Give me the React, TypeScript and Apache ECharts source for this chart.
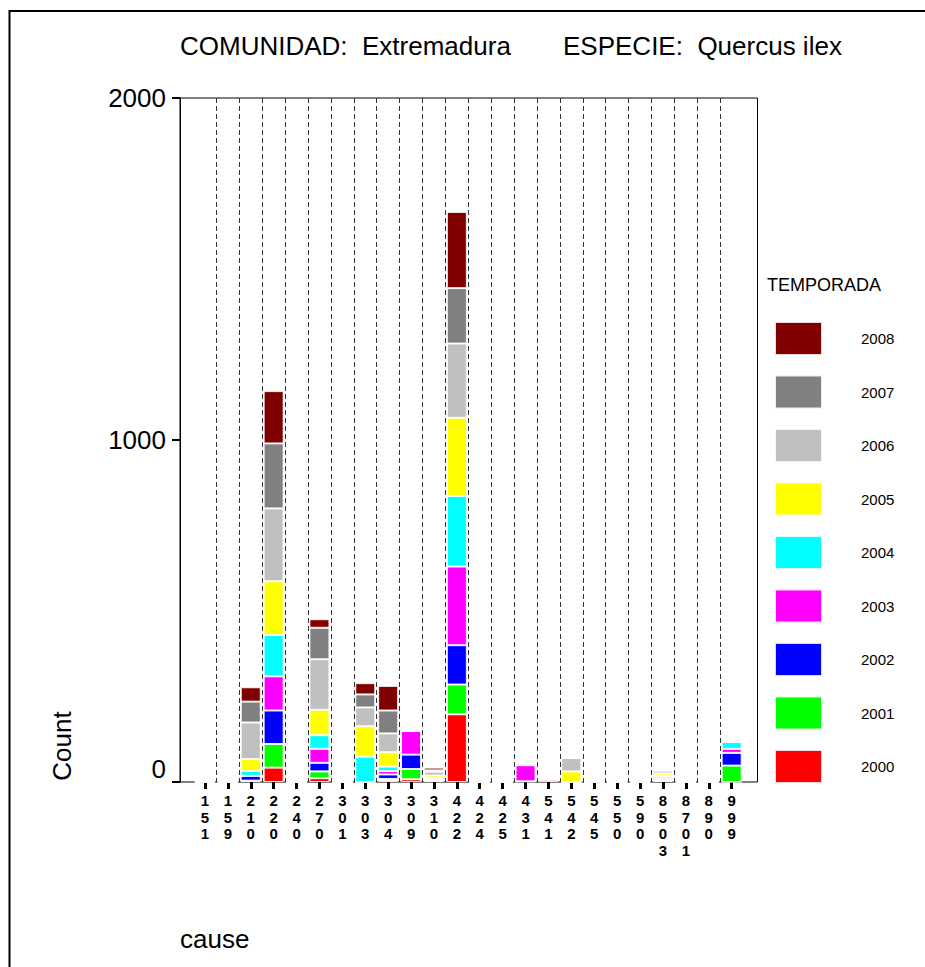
import React, { useEffect, useRef } from "react";
import * as echarts from "echarts";

const categories = ["151", "159", "210", "220", "240", "270", "301", "303", "304", "309", "310", "422", "424", "425", "431", "541", "542", "545", "550", "590", "8503", "8701", "890", "999"];
const seasons = ["2000", "2001", "2002", "2003", "2004", "2005", "2006", "2007", "2008"];
const seasonColors = ["#FF0000", "#00FF00", "#0000FF", "#FF00FF", "#00FFFF", "#FFFF00", "#C0C0C0", "#808080", "#800000"];

const v2000 = [0, 0, 4, 42, 0, 11, 0, 0, 5, 8, 3, 198, 0, 0, 2, 7, 0, 0, 0, 0, 3, 0, 0, 0];
const v2001 = [0, 0, 0, 69, 0, 20, 0, 0, 4, 30, 3, 87, 0, 0, 0, 0, 0, 0, 0, 0, 3, 0, 0, 48];
const v2002 = [0, 0, 14, 98, 0, 25, 0, 0, 13, 42, 2, 115, 0, 0, 0, 0, 0, 0, 0, 0, 4, 0, 0, 37];
const v2003 = [0, 0, 0, 100, 0, 41, 0, 0, 10, 69, 2, 230, 0, 0, 47, 0, 0, 0, 0, 0, 5, 0, 0, 12];
const v2004 = [0, 0, 14, 121, 0, 40, 0, 74, 13, 0, 2, 206, 0, 0, 0, 0, 0, 0, 0, 0, 3, 4, 0, 20];
const v2005 = [0, 0, 35, 157, 0, 74, 0, 89, 42, 0, 7, 229, 0, 0, 0, 0, 31, 0, 0, 0, 7, 0, 0, 0];
const v2006 = [0, 0, 107, 213, 0, 148, 0, 55, 55, 0, 11, 217, 0, 0, 0, 0, 39, 0, 0, 0, 8, 0, 0, 0];
const v2007 = [0, 0, 61, 190, 0, 92, 0, 38, 67, 0, 4, 162, 0, 0, 0, 0, 0, 0, 0, 0, 1, 0, 0, 0];
const v2008 = [0, 0, 42, 153, 0, 25, 0, 33, 72, 0, 8, 223, 0, 0, 0, 0, 0, 0, 0, 0, 1, 0, 0, 0];
const seasonValues = [v2000, v2001, v2002, v2003, v2004, v2005, v2006, v2007, v2008];

const yTicks = { min: 0, max: 2000, interval: 1000 };

const FONT = "'Liberation Sans', Arial, sans-serif";

export default function App() {
  const ref = useRef<HTMLDivElement>(null);
  useEffect(() => {
    if (!ref.current) return;
    const chart = echarts.init(ref.current, undefined, { renderer: "svg" });
    const series = seasons.map((s, i) => ({
      name: s,
      type: "bar",
      stack: "total",
      xAxisIndex: 1,
      yAxisIndex: 1,
      barWidth: 20,
      data: seasonValues[i],
      itemStyle: { color: seasonColors[i], borderColor: "rgba(255,255,255,0.85)", borderWidth: 1 },
    }));
    chart.setOption({
      animation: false,
      backgroundColor: "#ffffff",
      grid: [
        { left: 180, right: 167.5, top: 98, bottom: 185, show: true, borderColor: "#000", borderWidth: 1, backgroundColor: "transparent" },
        { left: 193.5, right: 181.9, top: 98, bottom: 185 },
        { left: 216.4, right: 204.8, top: 98, bottom: 185 },
      ],
      xAxis: [
        { gridIndex: 0, type: "value", min: 0, max: 1, show: false },
        {
          gridIndex: 1,
          type: "category",
          data: categories,
          axisLine: { show: false },
          axisTick: { show: true, alignWithLabel: true, length: 7, lineStyle: { color: "#000", width: 3 } },
          axisLabel: {
            interval: 0,
            margin: 10,
            color: "#000",
            fontFamily: FONT,
            fontWeight: "bold",
            fontSize: 15,
            lineHeight: 16.7,
            formatter: (v: string) => v.split("").join("\n"),
          },
          splitLine: { show: false },
        },
        {
          gridIndex: 2,
          type: "value",
          min: 1,
          max: 23,
          interval: 1,
          axisLine: { show: false },
          axisTick: { show: false },
          axisLabel: { show: false },
          splitLine: { show: true, lineStyle: { color: "#333", width: 1, type: [5, 3] } },
        },
      ],
      yAxis: [
        {
          gridIndex: 0,
          type: "value",
          min: yTicks.min,
          max: yTicks.max,
          interval: yTicks.interval,
          axisLine: { show: true, lineStyle: { color: "#000", width: 1 } },
          axisTick: { show: true, length: 8, lineStyle: { color: "#000", width: 2 } },
          axisLabel: {
            margin: 14,
            color: "#000",
            fontFamily: FONT,
            fontSize: 26,
            formatter: (v: number) => (v === 0 ? "{z|0}" : String(v)),
            rich: { z: { fontFamily: FONT, fontSize: 26, color: "#000", padding: [0, 0, 26, 0] } },
          },
          splitLine: { show: false },
        },
        { gridIndex: 1, type: "value", min: yTicks.min, max: yTicks.max, show: false },
        { gridIndex: 2, type: "value", min: 0, max: 1, show: false },
      ],
      legend: {
        orient: "vertical",
        left: 774,
        top: 321,
        padding: 0,
        itemWidth: 47,
        itemHeight: 33,
        itemGap: 18.5,
        icon: "rect",
        selectedMode: false,
        data: [...seasons].reverse(),
        textStyle: { color: "#000", fontFamily: FONT, fontSize: 15, lineHeight: 15, padding: [12, 0, 0, 34] },
      },
      graphic: [
        { type: "rect", shape: { x: 9.5, y: 11, width: 1000, height: 1000 }, style: { fill: "none", stroke: "#000", lineWidth: 2 }, silent: true },
        { type: "text", x: 180, y: 46, style: { text: "COMUNIDAD:  Extremadura", fontFamily: FONT, fontSize: 26, fill: "#000", textVerticalAlign: "middle" } },
        { type: "text", x: 563, y: 46, style: { text: "ESPECIE:  Quercus ilex", fontFamily: FONT, fontSize: 26, fill: "#000", textVerticalAlign: "middle" } },
        { type: "text", x: 767, y: 285, style: { text: "TEMPORADA", fontFamily: FONT, fontSize: 18, fill: "#000", textVerticalAlign: "middle" } },
        { type: "text", x: 62, y: 746, rotation: Math.PI / 2, style: { text: "Count", fontFamily: FONT, fontSize: 26, fill: "#000", textAlign: "center", textVerticalAlign: "middle" } },
        { type: "text", x: 180, y: 939, style: { text: "cause", fontFamily: FONT, fontSize: 26, fill: "#000", textVerticalAlign: "middle" } },
      ],
      series,
    });
    return () => chart.dispose();
  }, []);
  return <div ref={ref} style={{ position: "absolute", left: 0, top: 0, width: 925, height: 967 }} />;
}
